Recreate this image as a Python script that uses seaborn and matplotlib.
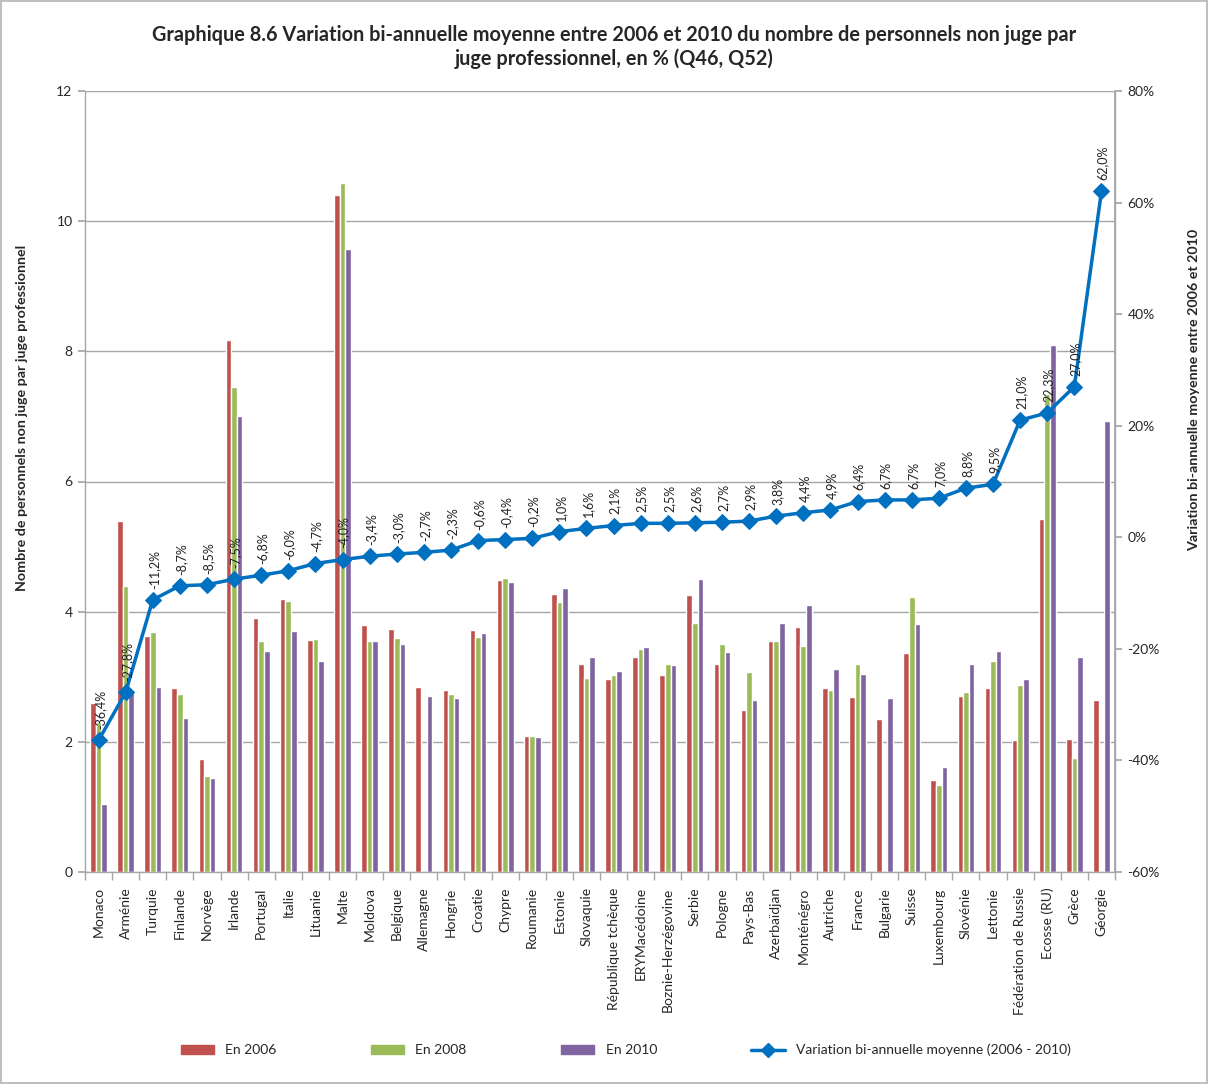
import numpy as np
import pandas as pd
import matplotlib
matplotlib.use("Agg")
import matplotlib.pyplot as plt
import seaborn as sns
from matplotlib.ticker import FuncFormatter, MultipleLocator, FixedLocator
from matplotlib.lines import Line2D
from matplotlib.patches import Patch

countries = ["Monaco", "Arménie", "Turquie", "Finlande", "Norvège", "Irlande", "Portugal",
             "Italie", "Lituanie", "Malte", "Moldova", "Belgique", "Allemagne", "Hongrie",
             "Croatie", "Chypre", "Roumanie", "Estonie", "Slovaquie", "République tchèque",
             "ERYMacédoine", "Boznie-Herzégovine", "Serbie", "Pologne", "Pays-Bas",
             "Azerbaïdjan", "Monténégro", "Autriche", "France", "Bulgarie", "Suisse",
             "Luxembourg", "Slovénie", "Lettonie", "Fédération de Russie", "Ecosse (RU)",
             "Grèce", "Géorgie"]

v2006 = [2.60, 5.40, 3.62, 2.83, 1.74, 8.18, 3.90, 4.20, 3.57, 10.40, 3.80, 3.73, 2.85, 2.80,
         3.72, 4.48, 2.09, 4.27, 3.20, 2.97, 3.30, 3.02, 4.26, 3.20, 2.49, 3.55, 3.76, 2.83,
         2.69, 2.35, 3.36, 1.41, 2.70, 2.83, 2.03, 5.43, 2.05, 2.65]
v2008 = [2.30, 4.40, 3.68, 2.74, 1.48, 7.45, 3.55, 4.16, 3.58, 10.58, 3.55, 3.60, np.nan, 2.73,
         3.61, 4.52, 2.09, 4.15, 2.98, 3.02, 3.42, 3.19, 3.82, 3.50, 3.07, 3.55, 3.48, 2.79,
         3.19, np.nan, 4.22, 1.34, 2.77, 3.24, 2.87, 7.35, 1.75, np.nan]
v2010 = [1.05, 2.80, 2.85, 2.36, 1.45, 7.00, 3.39, 3.70, 3.24, 9.58, 3.55, 3.50, 2.70, 2.67,
         3.67, 4.45, 2.08, 4.36, 3.31, 3.09, 3.46, 3.18, 4.50, 3.38, 2.64, 3.82, 4.10, 3.12,
         3.04, 2.68, 3.81, 1.62, 3.20, 3.39, 2.97, 8.10, 3.31, 6.93]
variation = [-36.4, -27.8, -11.2, -8.7, -8.5, -7.5, -6.8, -6.0, -4.7, -4.0, -3.4, -3.0, -2.7,
             -2.3, -0.6, -0.4, -0.2, 1.0, 1.6, 2.1, 2.5, 2.5, 2.6, 2.7, 2.9, 3.8, 4.4, 4.9,
             6.4, 6.7, 6.7, 7.0, 8.8, 9.5, 21.0, 22.3, 27.0, 62.0]

series_names = ["En 2006", "En 2008", "En 2010"]
line_name = "Variation bi-annuelle moyenne (2006 - 2010)"
colors = ["#C0504D", "#9BBB59", "#8064A2"]
line_color = "#0070C0"

sns.set_theme(style="white")
plt.rcParams['font.family'] = ['Lato', 'DejaVu Sans']

df = pd.DataFrame({"pays": countries, series_names[0]: v2006,
                   series_names[1]: v2008, series_names[2]: v2010})
long = df.melt(id_vars="pays", var_name="annee", value_name="val")
line_df = pd.DataFrame({"pos": np.arange(len(countries)), "var": variation})

fig = plt.figure(figsize=(12.08, 10.84), dpi=100)
fig.patch.set_edgecolor("#bfbfbf")
fig.patch.set_linewidth(1.5)
W, H = 1208, 1084
ax = fig.add_axes([85 / W, 1 - 872 / H, (1115 - 85) / W, (872 - 91) / H])

sns.barplot(data=long, x="pays", y="val", hue="annee", order=countries,
            hue_order=series_names, palette=colors, width=0.62, saturation=1,
            ax=ax, legend=False, errorbar=None)

grid_col = "#a6a6a6"
ax.set_ylim(0, 12)
ax.set_xlim(-0.5, len(countries) - 0.5)
ax.yaxis.set_major_locator(MultipleLocator(2))
ax.set_axisbelow(True)
ax.grid(axis="y", color=grid_col, lw=1)
ax.grid(axis="x", visible=False)
ax.set_xlabel("")
ax.set_ylabel("")
for s in ["top"]:
    ax.spines[s].set_visible(False)
for s in ["left", "bottom", "right"]:
    ax.spines[s].set_color(grid_col)
    ax.spines[s].set_linewidth(1)
ax.tick_params(axis="y", left=True, length=5, color=grid_col, labelsize=10, pad=4)
ax.tick_params(axis="x", bottom=False, labelsize=10, rotation=90, pad=5)
ax.xaxis.set_minor_locator(FixedLocator(np.arange(-0.5, len(countries), 1.0)))
ax.tick_params(axis="x", which="minor", bottom=True, length=6, color=grid_col)

ax2 = ax.twinx()
sns.lineplot(data=line_df, x="pos", y="var", ax=ax2, color=line_color, lw=2.5,
             marker="D", markersize=8, markeredgecolor=line_color, legend=False)
ax2.set_ylim(-60, 80)
ax2.yaxis.set_major_locator(MultipleLocator(20))
ax2.yaxis.set_major_formatter(FuncFormatter(lambda v, p: f"{v:.0f}%"))
ax2.set_ylabel("")
ax2.set_xlabel("")
ax2.grid(False)
for s in ["top", "left", "bottom"]:
    ax2.spines[s].set_visible(False)
ax2.spines["right"].set_color(grid_col)
ax2.tick_params(axis="y", right=True, length=5, color=grid_col, labelsize=10, pad=4)
ax2.set_xlim(-0.5, len(countries) - 0.5)

for i, v in enumerate(variation):
    ax2.annotate(f"{v:.1f}%".replace(".", ","), (i, v), xytext=(1, 8),
                 textcoords="offset points", rotation=90, ha="center", va="bottom",
                 fontsize=9, color="#222222")

fig.text(0.508, 1 - 47 / H,
         "Graphique 8.6 Variation bi-annuelle moyenne entre 2006 et 2010 du nombre de personnels non juge par\n"
         "juge professionnel, en % (Q46, Q52)",
         ha="center", va="center", fontsize=14.3, fontweight="bold", linespacing=1.25)
fig.text(22 / W, 1 - 418 / H, "Nombre de personnels non juge par juge professionnel",
         rotation=90, ha="center", va="center", fontsize=10.3, fontweight="bold")
fig.text(1194 / W, 1 - 390 / H, "Variation bi-annuelle moyenne entre 2006 et 2010",
         rotation=90, ha="center", va="center", fontsize=10.3, fontweight="bold")

handles = [Patch(facecolor=c, edgecolor=c) for c in colors]
handles.append(Line2D([], [], color=line_color, lw=2.5, marker="D", markersize=7))
fig.legend(handles, series_names + [line_name], loc="center",
           bbox_to_anchor=(0.518, 1 - 1050 / H), ncol=4, frameon=False, fontsize=10,
           columnspacing=6.8, handlelength=2.4, handleheight=0.6)

fig.savefig("out.png", dpi=100, edgecolor=fig.get_edgecolor())
